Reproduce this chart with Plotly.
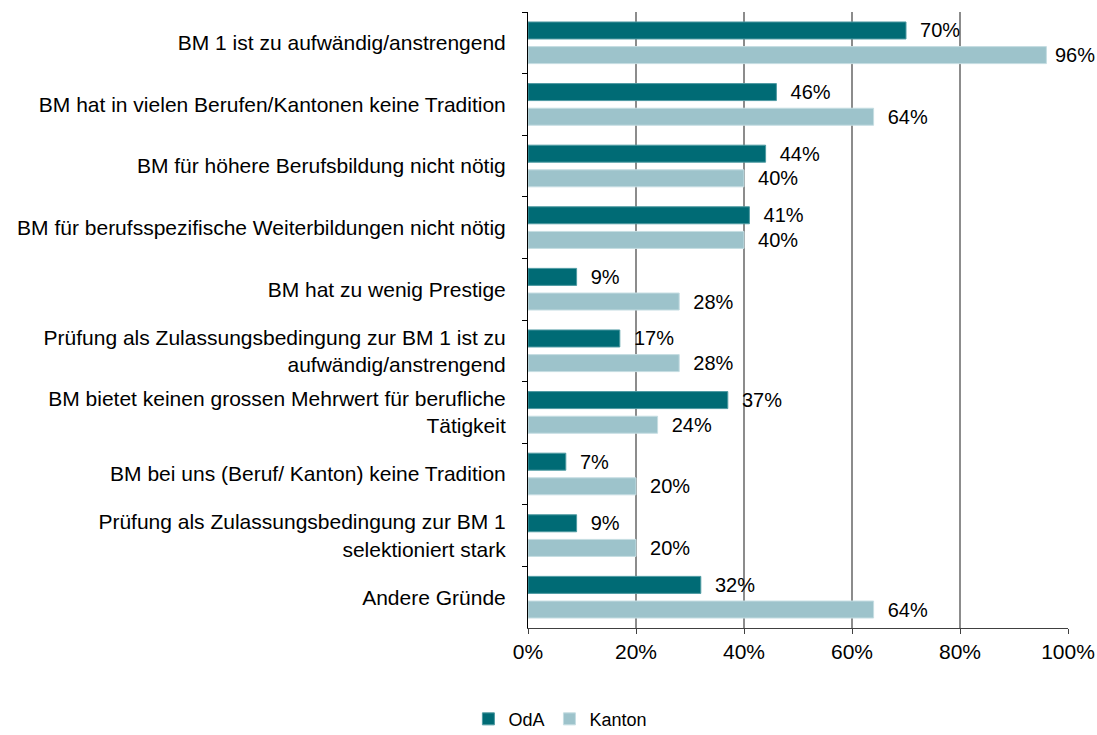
import plotly.graph_objects as go

categories = [
    "BM 1 ist zu aufwändig/anstrengend",
    "BM hat in vielen Berufen/Kantonen keine Tradition",
    "BM für höhere Berufsbildung nicht nötig",
    "BM für berufsspezifische Weiterbildungen nicht nötig",
    "BM hat zu wenig Prestige",
    "Prüfung als Zulassungsbedingung zur BM 1 ist zu<br>aufwändig/anstrengend",
    "BM bietet keinen grossen Mehrwert für berufliche<br>Tätigkeit",
    "BM bei uns (Beruf/ Kanton) keine Tradition",
    "Prüfung als Zulassungsbedingung zur BM 1<br>selektioniert stark",
    "Andere Gründe",
]
oda = [70, 46, 44, 41, 9, 17, 37, 7, 9, 32]
kanton = [96, 64, 40, 40, 28, 28, 24, 20, 20, 64]
x_ticks = [0, 20, 40, 60, 80, 100]
x_tick_labels = ["0%", "20%", "40%", "60%", "80%", "100%"]

font_family = "Liberation Sans, Arial, sans-serif"


def label(v):
    pad = " " if v > 90 else "  "
    return f"{pad}{v}%"


fig = go.Figure()
fig.add_trace(go.Bar(
    y=categories, x=oda, name="OdA", orientation="h",
    marker=dict(color="#006B75", line=dict(color="#4E9AA2", width=1)),
    text=[label(v) for v in oda], textposition="outside", constraintext="none",
    textfont=dict(size=20, color="#000000", family=font_family),
    cliponaxis=False,
))
fig.add_trace(go.Bar(
    y=categories, x=kanton, name="Kanton", orientation="h",
    marker=dict(color="#9DC3CB", line=dict(color="#C5DDE2", width=1)),
    text=[label(v) for v in kanton], textposition="outside", constraintext="none",
    textfont=dict(size=20, color="#000000", family=font_family),
    cliponaxis=False,
))

fig.update_layout(
    width=1097, height=735,
    barmode="group", bargap=0.2, bargroupgap=0.31,
    plot_bgcolor="white", paper_bgcolor="white",
    margin=dict(l=528, r=29, t=12, b=107, autoexpand=False),
    font=dict(family=font_family, size=20, color="#000000"),
    showlegend=True,
    legend=dict(orientation="h", x=0.06, xanchor="center", y=-0.148, yanchor="middle",
                font=dict(size=18), itemwidth=30, traceorder="normal"),
)
fig.update_xaxes(
    range=[0, 100], tickvals=x_ticks, ticktext=x_tick_labels,
    showgrid=True, gridcolor="#8C8C8C", gridwidth=2,
    showline=True, linecolor="#404040", linewidth=1,
    ticks="outside", ticklen=5, tickcolor="#404040",
    zeroline=False, tickfont=dict(size=21), automargin=False,
)
fig.update_yaxes(
    autorange="reversed", categoryorder="array", categoryarray=categories,
    showline=True, linecolor="#000000", linewidth=1,
    ticks="outside", ticklen=5, tickcolor="#000000", tickson="boundaries",
    showgrid=False, ticklabelstandoff=17, tickfont=dict(size=21), automargin=False,
)

fig.write_html("out.html", config={"displayModeBar": False},
               post_script="document.body.style.margin='0';")
